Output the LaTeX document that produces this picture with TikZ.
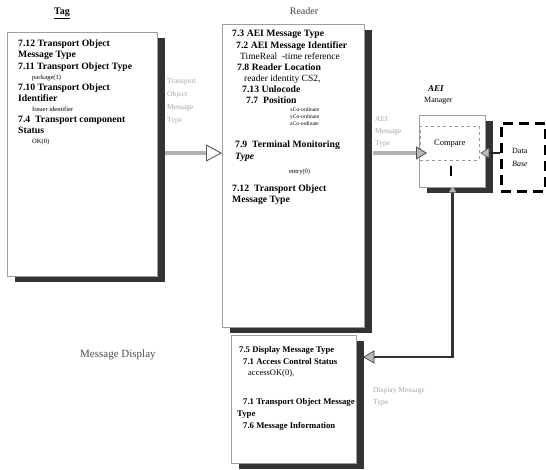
\documentclass[tikz,border=0pt]{standalone}
\usepackage{fontspec}
\setmainfont{Liberation Serif}
\usetikzlibrary{arrows.meta,shadows}
\begin{document}
\begin{tikzpicture}[x=1pt,y=-1pt,
  box/.style={draw=gray!75, line width=1.3pt, fill=white, inner sep=0pt, anchor=north west,
     drop shadow={shadow xshift=7pt, shadow yshift=-5pt, fill=black!80, opacity=1}},
  bt/.style={anchor=base west, inner sep=0pt, font=\fontsize{9.7}{11}\selectfont\bfseries},
  nt/.style={anchor=base west, inner sep=0pt, font=\fontsize{9.5}{11}\selectfont},
  st/.style={anchor=base west, inner sep=0pt, font=\fontsize{6.5}{7}\selectfont},
  xt/.style={anchor=base west, inner sep=0pt, font=\fontsize{5.5}{6}\selectfont},
  dt/.style={anchor=base west, inner sep=0pt, font=\fontsize{8.7}{10}\selectfont\bfseries},
  gt/.style={anchor=base west, inner sep=0pt, font=\fontsize{7.5}{8}\selectfont, text=gray!70},
  shaft/.style={line width=3.5pt, draw=gray!60},
]
\useasboundingbox (0,0) rectangle (546,470);

% boxes
\node[box, minimum width=150, minimum height=244] (tag) at (7,32) {};
\node[box, minimum width=142, minimum height=303] (reader) at (222,24) {};
\node[box, minimum width=66, minimum height=72] (aei) at (419,115) {};
\node[box, minimum width=125, minimum height=128] (disp) at (231,335) {};
\node[draw, line width=2.6pt, dash pattern=on 10pt off 6pt, minimum width=44, minimum height=68, anchor=north west, inner sep=0pt] (db) at (500,122) {};
\node[draw=gray!80, dashed, line width=0.5pt, minimum width=59, minimum height=34, anchor=north west, inner sep=0pt, font=\fontsize{8.5}{9}\selectfont] (cmp) at (420,126) {Compare};

% titles
\node[anchor=base, inner sep=0pt, font=\fontsize{10}{12}\selectfont\bfseries] (tagt) at (62,15) {\underline{Tag}};
\node[anchor=base, inner sep=0pt, font=\fontsize{10}{12}\selectfont, text=black!75] (readt) at (304,15) {Reader};
\node[anchor=base west, inner sep=0pt, font=\fontsize{9}{10}\selectfont\bfseries\itshape] (aeit) at (428,92) {AEI};
\node[anchor=base west, inner sep=0pt, font=\fontsize{8}{9}\selectfont] (mant) at (424,103) {Manager};
\node[anchor=base west, inner sep=0pt, font=\fontsize{11}{12}\selectfont, text=black!70] (mdt) at (80,357) {Message Display};

% Tag text
\node[bt] (a1) at (18,47) {7.12 Transport Object};
\node[bt] (a2) at (18,58) {Message Type};
\node[bt] (a3) at (18,70) {7.11 Transport Object Type};
\node[st] (a4) at (32,80) {package(1)};
\node[bt] (a5) at (18,91) {7.10 Transport Object};
\node[bt] (a6) at (18,102) {Identifier};
\node[st] (a7) at (32,112) {Issuer identifier};
\node[bt] (a8) at (18,123) {7.4\ \ Transport component};
\node[bt] (a9) at (18,134) {Status};
\node[st] (a10) at (32,144) {OK(0)};

% Reader text
\node[bt] (b1) at (232,37) {7.3 AEI Message Type};
\node[bt] (b2) at (236,49) {7.2 AEI Message Identifier};
\node[nt] (b3) at (240,60) {TimeReal\ \ -time reference};
\node[bt] (b4) at (237,71) {7.8 Reader Location};
\node[nt] (b5) at (244,82) {reader identity CS2,};
\node[bt] (b6) at (242,93) {7.13 Unlocode};
\node[bt] (b7) at (246,104) {7.7\ \ Position};
\node[xt] (b8) at (290,112) {xCo-ordinate};
\node[xt] (b9) at (290,119) {yCo-ordinate};
\node[xt] (b10) at (290,126) {zCo-ordinate};
\node[bt] (b11) at (235,148) {7.9\ \ Terminal Monitoring};
\node[bt, font=\fontsize{9.7}{11}\selectfont\bfseries\itshape] (b12) at (235,160) {Type};
\node[st] (b13) at (289,174) {entry(0)};
\node[bt] (b14) at (232,192) {7.12\ \ Transport Object};
\node[bt] (b15) at (232,203) {Message Type};

% Display text
\node[dt] (c1) at (239,352) {7.5 Display Message Type};
\node[dt] (c2) at (243,364) {7.1 Access Control Status};
\node[nt, font=\fontsize{8.5}{9}\selectfont] (c3) at (248,375) {accessOK(0),};
\node[dt] (c4) at (243,404) {7.1 Transport Object Message};
\node[dt] (c5) at (237,416) {Type};
\node[dt] (c6) at (243,428) {7.6 Message Information};

% Data base text
\node[anchor=base west, inner sep=0pt, font=\fontsize{8}{9}\selectfont] (dbt1) at (512,154) {Data};
\node[anchor=base west, inner sep=0pt, font=\fontsize{8}{9}\selectfont\itshape] (dbt2) at (512,167) {Base};

% connector labels
\node[gt] (l1) at (167,84) {Transport};
\node[gt] (l2) at (167,97) {Object};
\node[gt] (l3) at (167,110) {Message};
\node[gt] (l4) at (167,123) {Type};
\node[gt] (l5) at (375,122) {AEI};
\node[gt] (l6) at (375,134) {Message};
\node[gt] (l7) at (375,146) {Type};
\node[gt] (l8) at (373,392) {Display Message};
\node[gt] (l9) at (373,404) {Type};

% coordinates
\coordinate (y1) at (0,153);
\coordinate (y2) at (0,357);
\coordinate (m1) at (451,166);
\coordinate (m2) at (451,176);

% arrows
\draw[shaft, -{Triangle[open, length=16pt, width=17pt, line width=0.9pt, color=black!65, fill=white]}]
  ([xshift=7pt]tag.east |- y1) -- (reader.west |- y1);
\draw[shaft, line width=4pt, -{Triangle[length=11pt, width=13pt, line width=0.8pt, color=black!70, fill=gray!55]}]
  ([xshift=8pt]reader.east |- y1) -- ([xshift=8pt]aei.west |- y1);
\draw[line width=1.4pt, black!85, -{Triangle[length=9pt, width=11pt, line width=0.6pt, color=black!70, fill=gray!55]}]
  (db.west |- y1) -- ([xshift=-6pt]aei.east |- y1);
\draw[line width=2.6pt, black!80,
  {Triangle[length=11pt, width=13pt, line width=0.6pt, color=black!80, fill=gray!55]}-{Triangle[length=6pt, width=7pt, color=gray!60, fill=gray!60]}]
  ([xshift=6pt]disp.east |- y2) -| ([yshift=2pt]aei.south);
\draw[line width=1.1pt] (m1) -- (m2);
\end{tikzpicture}
\end{document}
